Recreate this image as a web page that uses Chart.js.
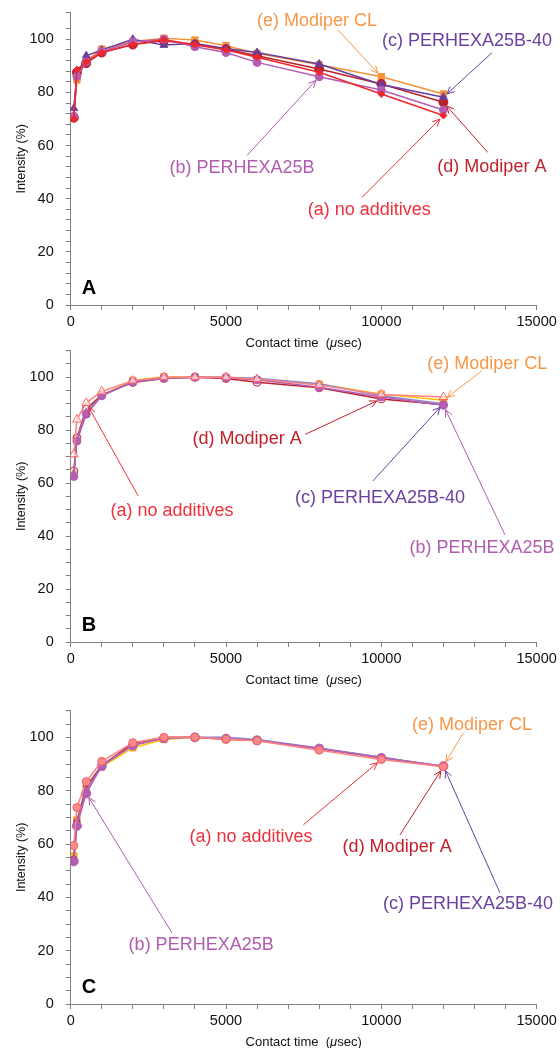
<!DOCTYPE html>
<html>
<head>
<meta charset="utf-8">
<script src="https://cdn.jsdelivr.net/npm/chart.js@4.4.1/dist/chart.umd.min.js"></script>
<style>
    html, body { margin: 0; padding: 0; background: #fff; overflow: hidden; }
    .panel { position: absolute; left: 0; width: 560px; }
</style>
</head>
<body>
<div class="panel" style="top:0px"><canvas id="chartA" width="560" height="351"></canvas></div>
<div class="panel" style="top:340px"><canvas id="chartB" width="560" height="348"></canvas></div>
<div class="panel" style="top:700px"><canvas id="chartC" width="560" height="350"></canvas></div>
<script>
// contact time (usec) shared by all panels
const contactTime = [100, 200, 500, 1000, 2000, 3000, 4000, 5000, 6000, 8000, 10000, 12000];
const seriesNames = ['(a) no additives', '(b) PERHEXA25B', '(c) PERHEXA25B-40', '(d) Modiper A', '(e) Modiper CL'];

// panel A
const aNoAdditives = [70.0, 88.6, 91.5, 95.0, 98.0, 99.8, 97.9, 96.0, 93.2, 87.6, 79.4, 71.3];
const aPerhexa25B = [71.0, 86.0, 91.5, 95.5, 99.0, 100.0, 97.2, 95.0, 91.3, 85.9, 80.9, 73.4];
const aPerhexa25B40 = [74.0, 86.7, 93.8, 96.0, 100.0, 97.8, 98.4, 96.5, 95.0, 90.7, 83.0, 78.2];
const aModiperA = [70.5, 87.5, 91.0, 95.0, 98.0, 99.4, 98.0, 96.3, 93.8, 88.8, 83.2, 76.3];
const aModiperCL = [70.7, 84.7, 92.0, 96.3, 99.2, 100.4, 99.7, 97.6, 94.7, 90.4, 85.9, 79.4];

// panel B
const bNoAdditives = [70.9, 84.0, 90.3, 94.6, 98.7, 100.0, 100.0, 100.0, 99.3, 97.0, 93.5, 92.5];
const bPerhexa25B = [62.5, 75.9, 86.0, 93.0, 98.3, 99.6, 100.0, 99.8, 99.0, 96.2, 92.5, 89.4];
const bPerhexa25B40 = [64.0, 76.3, 87.0, 93.0, 98.3, 99.6, 100.0, 100.0, 99.6, 97.5, 93.0, 90.0];
const bModiperA = [64.5, 77.0, 88.0, 93.3, 98.0, 99.5, 100.0, 99.5, 98.1, 96.0, 91.8, 89.6];
const bModiperCL = [63.8, 77.0, 86.5, 93.1, 98.8, 100.2, 100.0, 100.0, 99.0, 97.4, 93.6, 91.3];

// panel C
const cNoAdditives = [59.4, 73.7, 83.4, 91.0, 98.0, 100.0, 100.0, 99.3, 98.7, 95.2, 91.7, 89.0];
const cPerhexa25B = [53.5, 66.8, 79.0, 89.3, 97.0, 99.7, 100.0, 99.5, 98.9, 95.8, 92.3, 89.2];
const cPerhexa25B40 = [54.0, 68.0, 80.0, 89.5, 97.0, 99.8, 100.0, 100.0, 99.2, 96.0, 92.5, 89.2];
const cModiperA = [54.5, 68.5, 81.5, 89.5, 97.7, 100.0, 100.0, 99.3, 98.9, 95.8, 92.5, 89.0];
const cModiperCL = [55.5, 69.0, 80.9, 88.9, 96.1, 99.2, 100.0, 99.2, 98.7, 95.8, 92.3, 89.2];

// callouts: label centre (tx, ty) and arrow start (ax, ay) in data units, arrow ends at series/index point
const calloutsA = [
    { series: 4, index: 10, tx: 7930, ty: 107, ax: 8600, ay: 103.6 },
    { series: 2, index: 11, tx: 12760, ty: 99.4, ax: 13560, ay: 94.9 },
    { series: 3, index: 11, tx: 13560, ty: 51.8, ax: 13430, ay: 57.4 },
    { series: 0, index: 11, tx: 9610, ty: 35.6, ax: 9380, ay: 40.5 },
    { series: 1, index: 9, tx: 5515, ty: 51.4, ax: 5680, ay: 56.3 }
];
const calloutsB = [
    { series: 3, index: 10, tx: 5680, ty: 76.5, ax: 7550, ay: 78.4 },
    { series: 0, index: 2, tx: 3260, ty: 49.5, ax: 2170, ay: 55.2 },
    { series: 4, index: 11, tx: 13410, ty: 105, ax: 13240, ay: 102.4 },
    { series: 2, index: 11, tx: 9960, ty: 54.4, ax: 9730, ay: 60.8 },
    { series: 1, index: 11, tx: 13245, ty: 35.3, ax: 13980, ay: 40.5 }
];
const calloutsC = [
    { series: 4, index: 11, tx: 12920, ty: 104.7, ax: 12640, ay: 101.7 },
    { series: 0, index: 10, tx: 5805, ty: 62.7, ax: 7490, ay: 67.2 },
    { series: 3, index: 11, tx: 10510, ty: 58.9, ax: 10600, ay: 63.4 },
    { series: 2, index: 11, tx: 12790, ty: 37.5, ax: 13820, ay: 41.7 },
    { series: 1, index: 2, tx: 4200, ty: 22, ax: 3265, ay: 26.6 }
];

const FONT = '"Liberation Sans", Arial, Helvetica, sans-serif';
const textColors = ['#F0303A', '#B05CB0', '#6A3FA0', '#C0202A', '#F79646'];

const calloutPlugin = {
    id: 'callouts',
    afterDatasetsDraw(chart, args, opts) {
        const ctx = chart.ctx;
        const xs = chart.scales.x, ys = chart.scales.y;
        const area = chart.chartArea;
        ctx.save();
        opts.notes.forEach(function(n) {
            const pt = chart.getDatasetMeta(n.series).data[n.index];
            const color = textColors[n.series];
            const sx = xs.getPixelForValue(n.ax), sy = ys.getPixelForValue(n.ay);
            const ang = Math.atan2(pt.y - sy, pt.x - sx);
            const ex = pt.x - 5 * Math.cos(ang), ey = pt.y - 5 * Math.sin(ang);
            ctx.strokeStyle = color;
            ctx.lineWidth = 1;
            ctx.beginPath();
            ctx.moveTo(sx, sy);
            ctx.lineTo(ex, ey);
            [-0.45, 0.45].forEach(function(d) {
                ctx.moveTo(ex, ey);
                ctx.lineTo(ex - 8 * Math.cos(ang + d), ey - 8 * Math.sin(ang + d));
            });
            ctx.stroke();
            ctx.fillStyle = color;
            ctx.font = '18px ' + FONT;
            ctx.textAlign = 'center';
            ctx.textBaseline = 'middle';
            ctx.fillText(seriesNames[n.series], xs.getPixelForValue(n.tx), ys.getPixelForValue(n.ty));
        });

        // panel letter
        ctx.fillStyle = '#000';
        ctx.font = 'bold 20px ' + FONT;
        ctx.textAlign = 'left';
        ctx.textBaseline = 'alphabetic';
        ctx.fillText(opts.letter, area.left + 11, area.bottom - 11);

        // x title with italic mu
        const y = area.bottom + 38;
        const parts = [['Contact time  (', '13px '], ['\u03BC', 'italic 13px '], ['sec)', '13px ']];
        let total = 0;
        parts.forEach(function(p) { ctx.font = p[1] + FONT; total += ctx.measureText(p[0]).width; });
        let x = (area.left + area.right) / 2 - total / 2;
        ctx.fillStyle = '#111';
        ctx.textBaseline = 'middle';
        parts.forEach(function(p) {
            ctx.font = p[1] + FONT;
            ctx.fillText(p[0], x, y);
            x += ctx.measureText(p[0]).width;
        });
        ctx.restore();
    }
};

function makeDataset(values, i, style) {
    return {
        label: seriesNames[i],
        data: values.map(function(v, k) { return { x: contactTime[k], y: v }; }),
        borderColor: style.line,
        backgroundColor: style.fill,
        pointBorderColor: style.edge || style.line,
        pointBackgroundColor: style.fill,
        pointStyle: style.shape,
        pointRadius: style.r,
        pointBorderWidth: 1,
        borderWidth: 1.5,
        tension: 0
    };
}

function makeChart(id, letter, sets, styles, notes, topPad, minorStep) {
    const datasets = sets.map(function(v, i) { return makeDataset(v, i, styles[i]); });
    return new Chart(document.getElementById(id), {
        type: 'line',
        data: { datasets: datasets },
        plugins: [calloutPlugin],
        options: {
            responsive: false,
            animation: false,
            devicePixelRatio: 1,
            layout: { padding: { top: topPad, right: 23.4, left: 0, bottom: 0 } },
            plugins: {
                legend: { display: false },
                tooltip: { enabled: false },
                callouts: { notes: notes, letter: letter }
            },
            scales: {
                x: {
                    type: 'linear',
                    min: 0, max: 15000,
                    afterFit: function(s) { s.height = 46; },
                    grid: { drawOnChartArea: false, drawTicks: true, tickLength: 5, tickColor: '#7f7f7f' },
                    border: { color: '#7f7f7f', width: 1 },
                    ticks: {
                        stepSize: 1000, autoSkip: false, maxRotation: 0, padding: 3,
                        color: '#111', font: { family: FONT, size: 14.5 },
                        callback: function(v) { return v % 5000 === 0 ? v : ''; }
                    }
                },
                y: {
                    min: 0, max: 110,
                    // fixed width, and no extra top/bottom room for the end labels
                    afterFit: function(s) { s.width = 70.7; s.paddingTop = 0; s.paddingBottom = 0; },
                    grid: { drawOnChartArea: false, drawTicks: true, tickLength: 5, tickColor: '#7f7f7f' },
                    border: { color: '#7f7f7f', width: 1 },
                    title: {
                        display: true, text: 'Intensity (%)', color: '#111',
                        font: { family: FONT, size: 12.5 }, padding: { top: 14, bottom: 0 }
                    },
                    ticks: {
                        stepSize: minorStep, autoSkip: false, padding: 12,
                        color: '#111', font: { family: FONT, size: 14.5 },
                        callback: function(v) { return v % 20 === 0 ? v : ''; }
                    }
                }
            }
        }
    });
}

const stylesA = [
    { line: '#F0282D', fill: '#F0282D', shape: 'rectRot', r: 3.5 },
    { line: '#B35DB5', fill: '#B35DB5', shape: 'circle', r: 4 },
    { line: '#6A3D9A', fill: '#6A3D9A', shape: 'triangle', r: 4.5 },
    { line: '#B8202A', fill: '#B8202A', shape: 'circle', r: 4.5 },
    { line: '#F7923A', fill: '#F7923A', shape: 'rect', r: 4.5 }
];
const stylesB = [
    { line: '#FF8080', fill: 'rgba(255,255,255,0.6)', edge: '#FF6060', shape: 'triangle', r: 5 },
    { line: '#B35DB5', fill: '#B35DB5', shape: 'circle', r: 4 },
    { line: '#8E86CC', fill: '#7060B0', shape: 'triangle', r: 3.5 },
    { line: '#C0202A', fill: 'rgba(255,255,255,0.6)', edge: '#C0202A', shape: 'circle', r: 4 },
    { line: '#FFC000', fill: '#FFC000', edge: '#F79646', shape: 'rect', r: 4.5 }
];
const stylesC = [
    { line: '#FF8080', fill: '#FF8A8A', edge: '#F06060', shape: 'circle', r: 4 },
    { line: '#B35DB5', fill: '#B35DB5', shape: 'circle', r: 4.5 },
    { line: '#8E86CC', fill: '#6A50B0', shape: 'triangle', r: 3.5 },
    { line: '#C0202A', fill: '#C0202A', shape: 'circle', r: 3 },
    { line: '#FFC000', fill: '#FFC000', edge: '#F79646', shape: 'rect', r: 4.5 }
];

makeChart('chartA', 'A', [aNoAdditives, aPerhexa25B, aPerhexa25B40, aModiperA, aModiperCL], stylesA, calloutsA, 12.7, 4);
makeChart('chartB', 'B', [bNoAdditives, bPerhexa25B, bPerhexa25B40, bModiperA, bModiperCL], stylesB, calloutsB, 10.7, 5);
makeChart('chartC', 'C', [cNoAdditives, cPerhexa25B, cPerhexa25B40, cModiperA, cModiperCL], stylesC, calloutsC, 10.7, 5);
</script>
</body>
</html>
